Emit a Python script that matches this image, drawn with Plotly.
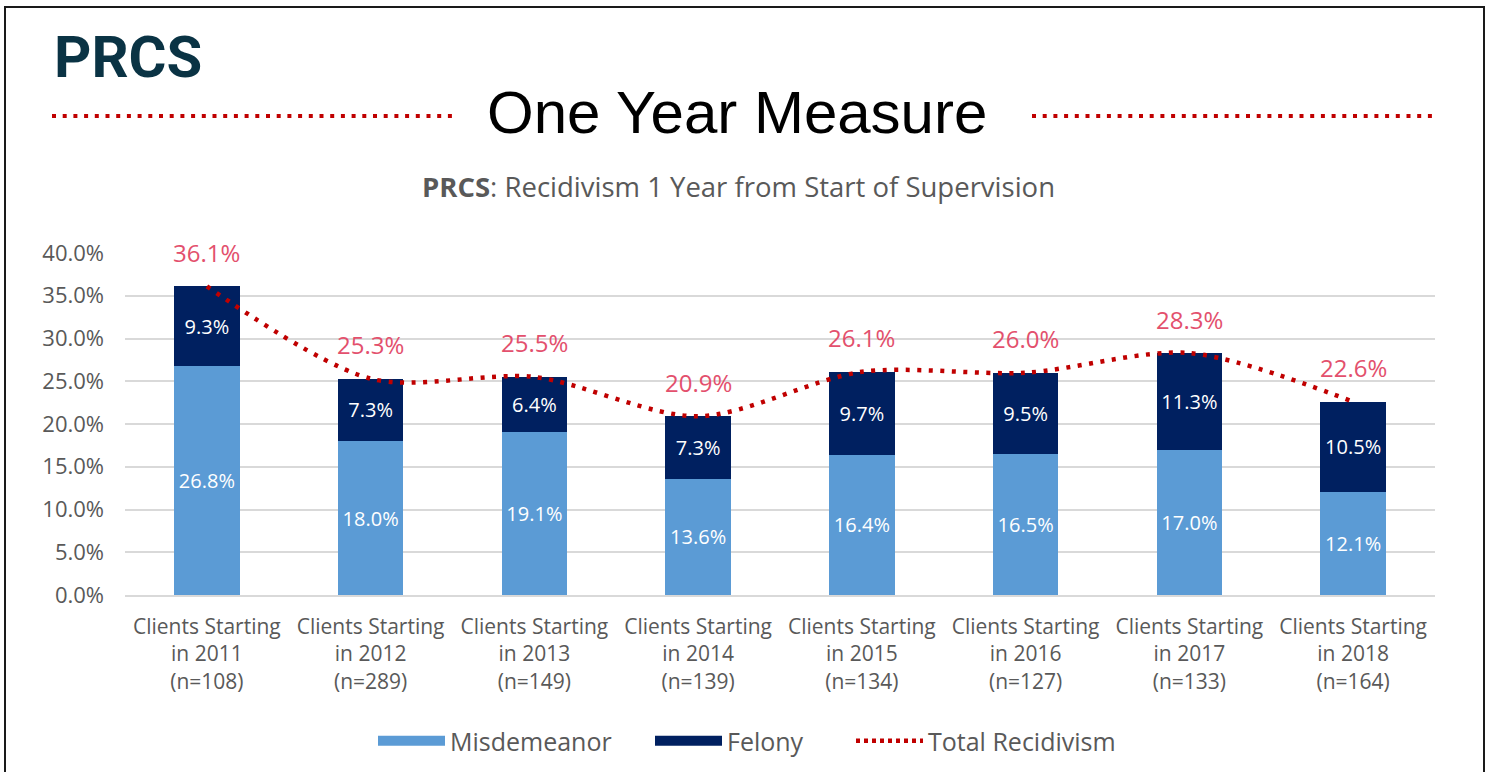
import plotly.graph_objects as go

categories = ["Clients Starting<br>in 2011<br>(n=108)", "Clients Starting<br>in 2012<br>(n=289)",
              "Clients Starting<br>in 2013<br>(n=149)", "Clients Starting<br>in 2014<br>(n=139)",
              "Clients Starting<br>in 2015<br>(n=134)", "Clients Starting<br>in 2016<br>(n=127)",
              "Clients Starting<br>in 2017<br>(n=133)", "Clients Starting<br>in 2018<br>(n=164)"]
misdemeanor = [26.8, 18.0, 19.1, 13.6, 16.4, 16.5, 17.0, 12.1]
felony = [9.3, 7.3, 6.4, 7.3, 9.7, 9.5, 11.3, 10.5]
total = [36.1, 25.3, 25.5, 20.9, 26.1, 26.0, 28.3, 22.6]
y_ticks = [0, 5, 10, 15, 20, 25, 30, 35, 40]

W, H = 1490, 772
# plot area in page pixels
L, R, T, B = 125, 1435, 253, 595
FONT = "Open Sans, Noto Sans, sans-serif"
GRAY = "#595959"
MIS_C, FEL_C, TOT_C = "#5B9BD5", "#002060", "#C00000"

def px(x):
    return (x - L) / (R - L)

def py(y):
    return (B - y) / (B - T)

fig = go.Figure()
fig.add_trace(go.Bar(
    x=categories, y=misdemeanor, name="Misdemeanor", marker_color=MIS_C, showlegend=False,
    text=[f"{v:.1f}%" for v in misdemeanor], textposition="inside", insidetextanchor="middle",
    textfont=dict(color="white", size=20, family=FONT), width=0.4, marker_line_width=0,
))
fig.add_trace(go.Bar(
    x=categories, y=felony, name="Felony", marker_color=FEL_C, showlegend=False,
    text=[f"{v:.1f}%" for v in felony], textposition="inside", insidetextanchor="middle",
    textfont=dict(color="white", size=20, family=FONT), width=0.4, marker_line_width=0,
))
fig.add_trace(go.Scatter(
    x=categories, y=total, name="Total Recidivism", mode="lines", showlegend=False,
    line=dict(color=TOT_C, width=4.5, dash="4px,7.5px", shape="spline", smoothing=0.85),
))
# legend entries (each in its own legend box, positioned like the original)
fig.add_trace(go.Scatter(x=[None], y=[None], mode="lines", name="Misdemeanor", legend="legend",
                         line=dict(color=MIS_C, width=16)))
fig.add_trace(go.Scatter(x=[None], y=[None], mode="lines", name="Felony", legend="legend2",
                         line=dict(color=FEL_C, width=16)))
fig.add_trace(go.Scatter(x=[None], y=[None], mode="lines", name="Total Recidivism", legend="legend3",
                         line=dict(color=TOT_C, width=4.5, dash="4px,4px")))

for c, v in zip(categories, total):
    fig.add_annotation(x=c, y=v, text=f"{v:.1f}%", showarrow=False, yshift=34,
                       yanchor="middle", font=dict(color="#E3506D", size=24, family=FONT))

shapes = [
    dict(type="rect", xref="paper", yref="paper", x0=px(5), x1=px(1484), y0=py(7), y1=py(800),
         line=dict(color="#1a1a1a", width=2), fillcolor="rgba(0,0,0,0)", layer="below"),
    dict(type="line", xref="paper", yref="paper", x0=px(52), x1=px(452), y0=py(116), y1=py(116),
         line=dict(color=TOT_C, width=4, dash="4px,6.7px")),
    dict(type="line", xref="paper", yref="paper", x0=px(1032), x1=px(1433), y0=py(116), y1=py(116),
         line=dict(color=TOT_C, width=4, dash="4px,6.7px")),
]

annotations_hdr = [
    dict(text="<b>PRCS</b>", x=px(52), y=py(57), xref="paper", yref="paper", xanchor="left",
         yanchor="middle", showarrow=False,
         font=dict(family="Roboto, Liberation Sans, sans-serif", size=58, color="#0A3344")),
    dict(text="One Year Measure", x=px(737), y=py(113), xref="paper", yref="paper", xanchor="center",
         yanchor="middle", showarrow=False,
         font=dict(family="Liberation Sans, Arial, sans-serif", size=60, color="black")),
    dict(text="<b>PRCS</b>: Recidivism 1 Year from Start of Supervision", x=px(738), y=py(186),
         xref="paper", yref="paper", xanchor="center", yanchor="middle", showarrow=False,
         font=dict(family=FONT, size=27.5, color=GRAY)),
]
for a in annotations_hdr:
    fig.add_annotation(**a)

leg_common = dict(orientation="h", xanchor="left", y=py(741), yanchor="middle",
                  font=dict(family=FONT, size=25, color=GRAY), itemwidth=67,
                  bgcolor="rgba(0,0,0,0)")

fig.update_layout(
    width=W, height=H, barmode="stack",
    margin=dict(l=L, r=W - R, t=T, b=H - B, autoexpand=False),
    paper_bgcolor="white", plot_bgcolor="white",
    shapes=shapes,
    showlegend=True,
    legend=dict(x=px(373), **leg_common),
    legend2=dict(x=px(650), **leg_common),
    legend3=dict(x=px(851), **leg_common),
    xaxis=dict(showgrid=False, showline=True, linecolor="#D9D9D9", linewidth=1.5, ticks="",
               tickfont=dict(family=FONT, size=21, color=GRAY), ticklabelstandoff=12),
    yaxis=dict(range=[0, 40], tickvals=y_ticks, ticktext=[f"{v:.1f}%" for v in y_ticks],
               showgrid=True, gridcolor="#D9D9D9", gridwidth=1.5, zeroline=False, showline=False,
               ticks="", tickfont=dict(family=FONT, size=22, color=GRAY), ticklabelstandoff=20),
)

fig.write_html("out.html", config={"displayModeBar": False},
               post_script="document.body.style.margin='0';")
